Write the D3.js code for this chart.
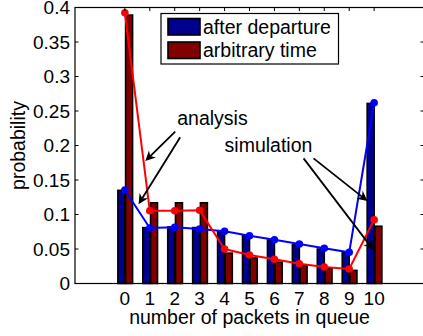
<!DOCTYPE html>
<html><head><meta charset="utf-8">
<script src="https://cdn.jsdelivr.net/npm/d3@7"></script>
<style>html,body{margin:0;padding:0;background:#fff;overflow:hidden}</style>
</head><body>
<svg id="c" width="423" height="336"></svg>
<script>
const categories = [0,1,2,3,4,5,6,7,8,9,10];
const simDeparture = [0.135,0.081,0.082,0.081,0.076,0.070,0.063,0.056,0.050,0.045,0.261];
const simArbitrary = [0.389,0.117,0.117,0.117,0.044,0.037,0.031,0.026,0.022,0.019,0.083];
const anaDeparture = [0.1355,0.0804,0.0814,0.079,0.0757,0.0693,0.0635,0.0572,0.051,0.0452,0.262];
const anaArbitrary = [0.3925,0.1055,0.1055,0.106,0.050,0.0413,0.035,0.0287,0.0239,0.021,0.0925];
const yTicks = [0,0.05,0.1,0.15,0.2,0.25,0.3,0.35,0.4];
const yTickLabels = ["0","0.05","0.1","0.15","0.2","0.25","0.3","0.35","0.4"];
const legendLabels = ["after departure","arbitrary time"];
const xLabel = "number of packets in queue";
const yLabel = "probability";

const FONT = "'Liberation Sans', Arial, sans-serif";
const FS = 19.5, FT = 19;
const svg = d3.select("#c");
const x = d3.scaleLinear().domain([-2,12]).range([75,424]);
const y = d3.scaleLinear().domain([0,0.4]).range([283.5,7.5]);
const barW = 0.28;
const cBlue = "rgb(0,0,143)", cRed = "rgb(128,0,0)";

// bars
const gB = svg.append("g");
gB.selectAll("rect.b").data(categories).join("rect")
  .attr("x", d => x(d - barW)).attr("width", x(barW) - x(0))
  .attr("y", (d,i) => y(simDeparture[i])).attr("height", (d,i) => y(0) - y(simDeparture[i]))
  .attr("fill", cBlue).attr("stroke", "#000").attr("stroke-width", 1.6);
gB.selectAll("rect.r").data(categories).join("rect")
  .attr("x", d => x(d + 0.03)).attr("width", x(barW) - x(0))
  .attr("y", (d,i) => y(simArbitrary[i])).attr("height", (d,i) => y(0) - y(simArbitrary[i]))
  .attr("fill", cRed).attr("stroke", "#000").attr("stroke-width", 1.6);

// lines
function series(vals, col) {
  const line = d3.line().x((d,i) => x(categories[i])).y(d => y(d));
  svg.append("path").attr("d", line(vals)).attr("fill","none").attr("stroke",col).attr("stroke-width",2);
  svg.append("g").selectAll("circle").data(vals).join("circle")
    .attr("cx",(d,i)=>x(categories[i])).attr("cy",d=>y(d)).attr("r",3.8).attr("fill",col);
}
series(anaDeparture, "#0000ff");
series(anaArbitrary, "#ff0000");

// axes box
const ax = svg.append("g");
ax.append("rect").attr("x",x(-2)).attr("y",y(0.4)).attr("width",x(12)-x(-2)).attr("height",y(0)-y(0.4))
  .attr("fill","none").attr("stroke","#000").attr("stroke-width",1.2);
const tl = 3.5;
yTicks.forEach((t,i) => {
  ax.append("line").attr("x1",x(-2)).attr("x2",x(-2)+tl).attr("y1",y(t)).attr("y2",y(t)).attr("stroke","#000");
  ax.append("line").attr("x1",x(12)).attr("x2",x(12)-tl).attr("y1",y(t)).attr("y2",y(t)).attr("stroke","#000");
  ax.append("text").attr("x",70).attr("y",y(t)).attr("dy","0.35em").attr("text-anchor","end")
    .attr("font-family",FONT).attr("font-size",FT).text(yTickLabels[i]);
});
categories.forEach(c => {
  ax.append("line").attr("x1",x(c)).attr("x2",x(c)).attr("y1",y(0)).attr("y2",y(0)-tl).attr("stroke","#000");
  ax.append("line").attr("x1",x(c)).attr("x2",x(c)).attr("y1",y(0.4)).attr("y2",y(0.4)+tl).attr("stroke","#000");
  ax.append("text").attr("x",x(c)).attr("y",305).attr("text-anchor","middle")
    .attr("font-family",FONT).attr("font-size",FT).text(String(c));
});
svg.append("text").attr("x",(x(-2)+x(12))/2).attr("y",324).attr("text-anchor","middle")
  .attr("font-family",FONT).attr("font-size",FS).text(xLabel);
svg.append("text").attr("transform",`translate(25,${(y(0)+y(0.4))/2}) rotate(-90)`).attr("text-anchor","middle")
  .attr("font-family",FONT).attr("font-size",FS).text(yLabel);

// legend
const lg = svg.append("g");
lg.append("rect").attr("x",161).attr("y",13.5).attr("width",177.5).attr("height",50.5)
  .attr("fill","#fff").attr("stroke","#000").attr("stroke-width",1.2);
[cBlue,cRed].forEach((c,i) => {
  lg.append("rect").attr("x",168).attr("y",18.5+i*23.5).attr("width",32).attr("height",16.5)
    .attr("fill",c).attr("stroke","#000").attr("stroke-width",1.6);
  lg.append("text").attr("x",203).attr("y",33.5+i*23.7).attr("font-family",FONT).attr("font-size",FS).text(legendLabels[i]);
});

// annotations (data coordinates)
const annText = [{t:"analysis",x:2.1,y:0.2297},{t:"simulation",x:4.0,y:0.191}];
const arrows = [
  [2.02,0.220,0.82,0.1775],
  [2.22,0.212,0.55,0.115],
  [7.57,0.1814,9.73,0.1196],
  [7.17,0.1814,9.97,0.0486]
];
annText.forEach(a => svg.append("text").attr("x",x(a.x)).attr("y",y(a.y)).attr("font-family",FONT).attr("font-size",FS).text(a.t));
arrows.forEach(a => {
  const x1=x(a[0]), y1=y(a[1]), x2=x(a[2]), y2=y(a[3]);
  const ang = Math.atan2(y2-y1, x2-x1);
  const L=10, W=5, N=7;
  const ux=Math.cos(ang), uy=Math.sin(ang), px=-uy, py=ux;
  svg.append("line").attr("x1",x1).attr("y1",y1).attr("x2",x2-ux*N).attr("y2",y2-uy*N).attr("stroke","#000").attr("stroke-width",1.8);
  const pts = [[x2,y2],[x2-ux*L+px*W,y2-uy*L+py*W],[x2-ux*N,y2-uy*N],[x2-ux*L-px*W,y2-uy*L-py*W]];
  svg.append("path").attr("d","M"+pts.map(p=>p.join(",")).join("L")+"Z").attr("fill","#000");
});
</script>
</body></html>
